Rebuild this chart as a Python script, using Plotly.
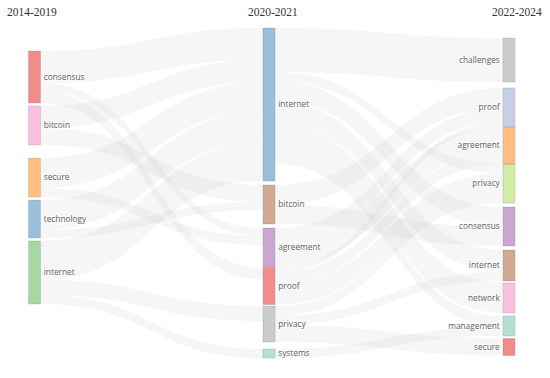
import plotly.graph_objects as go

# ---- data ----
periods = ["2014-2019", "2020-2021", "2022-2024"]

left_labels = ["consensus", "bitcoin", "secure", "technology", "internet"]
mid_labels = ["internet", "bitcoin", "agreement", "proof", "privacy", "systems"]
right_labels = ["challenges", "proof", "agreement", "privacy", "consensus",
                "internet", "network", "management", "secure"]

# flows: (source label, target label, value)
flows_left_mid = [
    ("consensus", "internet", 32), ("consensus", "proof", 12), ("consensus", "agreement", 8),
    ("bitcoin", "internet", 22), ("bitcoin", "bitcoin", 17),
    ("secure", "internet", 30), ("secure", "agreement", 9),
    ("technology", "internet", 30), ("technology", "bitcoin", 8),
    ("internet", "internet", 39), ("internet", "privacy", 15), ("internet", "systems", 9),
]
flows_mid_right = [
    ("internet", "challenges", 44), ("internet", "consensus", 20), ("internet", "internet", 22),
    ("internet", "network", 30), ("internet", "management", 11), ("internet", "privacy", 9),
    ("bitcoin", "proof", 20), ("bitcoin", "consensus", 19),
    ("agreement", "agreement", 25), ("agreement", "proof", 14),
    ("proof", "privacy", 20), ("proof", "agreement", 12), ("proof", "proof", 5),
    ("privacy", "privacy", 10), ("privacy", "internet", 9), ("privacy", "secure", 17),
    ("systems", "management", 9),
]

# ---- styles / layout positions ----
left_colors = ["rgba(228,26,28,0.5)", "rgba(247,129,191,0.5)", "rgba(255,127,0,0.5)",
               "rgba(55,126,184,0.5)", "rgba(77,175,74,0.5)"]
mid_colors = ["rgba(55,126,184,0.5)", "rgba(166,86,40,0.5)", "rgba(152,78,163,0.5)",
              "rgba(228,26,28,0.5)", "rgba(153,153,153,0.5)", "rgba(102,194,165,0.5)"]
right_colors = ["rgba(153,153,153,0.5)", "rgba(141,160,203,0.5)", "rgba(255,127,0,0.5)",
                "rgba(166,216,84,0.5)", "rgba(152,78,163,0.5)", "rgba(166,86,40,0.5)",
                "rgba(247,129,191,0.5)", "rgba(102,194,165,0.5)", "rgba(228,26,28,0.5)"]

col_x = [0.0627, 0.4891, 0.9255]
left_y = [0.1502, 0.2958, 0.4520, 0.5766, 0.7372]
mid_y = [0.2327, 0.5330, 0.6622, 0.7778, 0.8919, 0.9805]
right_y = [0.0991, 0.2417, 0.3559, 0.4700, 0.5991, 0.7162, 0.8138, 0.8979, 0.9610]

labels = left_labels + mid_labels + right_labels
colors = left_colors + mid_colors + right_colors
xs = [col_x[0]] * len(left_labels) + [col_x[1]] * len(mid_labels) + [col_x[2]] * len(right_labels)
ys = left_y + mid_y + right_y

nL, nM = len(left_labels), len(mid_labels)
src, tgt, val = [], [], []
for s, t, v in flows_left_mid:
    src.append(left_labels.index(s))
    tgt.append(nL + mid_labels.index(t))
    val.append(v)
for s, t, v in flows_mid_right:
    src.append(nL + mid_labels.index(s))
    tgt.append(nL + nM + right_labels.index(t))
    val.append(v)

fig = go.Figure(go.Sankey(
    arrangement="fixed",
    node=dict(label=labels, color=colors, x=xs, y=ys, pad=4, thickness=12,
              line=dict(color="rgba(90,90,90,0.35)", width=0.5)),
    link=dict(source=src, target=tgt, value=val, color="rgba(200,200,200,0.16)"),
    textfont=dict(family="Open Sans", size=8.3, color="#5a5a5a"),
))

title_x = [5 / 550, 273 / 550, 544 / 550]
anchors = ["left", "center", "right"]
for p, xv, a in zip(periods, title_x, anchors):
    fig.add_annotation(text=p, x=xv, y=1.045, xref="paper", yref="paper",
                       xanchor=a, yanchor="middle", showarrow=False,
                       font=dict(family="Liberation Serif", size=11.5, color="#333"))

fig.update_layout(width=550, height=378, margin=dict(l=0, r=0, t=27, b=18),
                  paper_bgcolor="white", plot_bgcolor="white")
fig.write_html("out.html", config={"displayModeBar": False},
               post_script="document.body.style.margin='0';")
